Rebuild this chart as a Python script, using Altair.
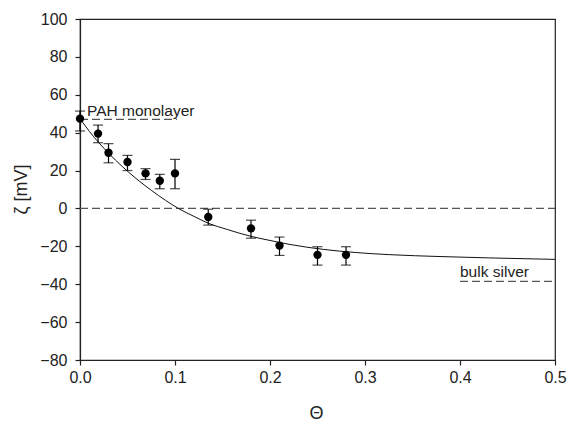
import altair as alt
import pandas as pd

# measured points (Theta, zeta) with error bar limits
theta = [0.0, 0.019, 0.030, 0.050, 0.069, 0.084, 0.100, 0.135, 0.180, 0.210, 0.250, 0.280]
zeta = [47.4, 39.5, 29.4, 24.5, 18.5, 14.6, 18.5, -4.5, -10.5, -19.6, -24.5, -24.5]
zeta_hi = [51.4, 44.0, 34.2, 28.0, 21.0, 18.0, 25.9, -0.4, -6.2, -15.1, -20.2, -20.2]
zeta_lo = [40.9, 34.7, 24.1, 20.0, 15.3, 10.4, 10.4, -8.8, -15.7, -24.8, -29.9, -29.9]

# fitted curve
curve_x = [0.0, 0.01, 0.02, 0.03, 0.045, 0.06, 0.075, 0.09, 0.1035, 0.12, 0.135, 0.155,
           0.179, 0.2, 0.221, 0.256, 0.291, 0.326, 0.38, 0.43, 0.5]
curve_y = [47.4, 40.6, 34.6, 29.2, 21.9, 15.4, 9.6, 4.3, 0.0, -4.2, -7.8, -11.1,
           -14.6, -16.9, -19.0, -21.6, -23.3, -24.4, -25.4, -26.1, -26.9]

# dashed reference lines: x start, x end, level
ref_x1 = [0.0, 0.0, 0.4]
ref_x2 = [0.5, 0.102, 0.5]
ref_y = [0.0, 47.0, -38.5]

# annotations
label_text = ["PAH monolayer", "bulk silver"]
label_x = [0.0074, 0.4]
label_y = [48.8, -36.3]

x_ticks = [0.0, 0.1, 0.2, 0.3, 0.4, 0.5]
y_ticks = [-80, -60, -40, -20, 0, 20, 40, 60, 80, 100]

pts = pd.DataFrame({"x": theta, "y": zeta, "hi": zeta_hi, "lo": zeta_lo})
crv = pd.DataFrame({"x": curve_x, "y": curve_y})
refs = pd.DataFrame({"x": ref_x1, "x2": ref_x2, "y": ref_y})
labs = pd.DataFrame({"x": label_x, "y": label_y, "t": label_text})

xs = alt.Scale(domain=[0, 0.5], nice=False, zero=False)
ys = alt.Scale(domain=[-80, 100], nice=False, zero=False)

x_axis = alt.Axis(values=x_ticks, format=".1f", title="Θ", labelFlush=False,
                  titleX=236, titleY=53, titleBaseline="middle", titleAlign="center",
                  labelPadding=4)
y_axis = alt.Axis(values=y_ticks, format="d", title="ζ [mV]", labelFlush=False,
                  titleX=-59, titleY=170, titleAngle=270, titleAlign="center",
                  titleBaseline="middle", labelPadding=8)


def X(f):
    return alt.X(f + ":Q", scale=xs, axis=x_axis)


def Y(f):
    return alt.Y(f + ":Q", scale=ys, axis=y_axis)


ref_layer = alt.Chart(refs).mark_rule(strokeDash=[8, 4], color="#555", strokeWidth=1.2).encode(
    x=X("x"), x2="x2:Q", y=Y("y"))

curve_layer = alt.Chart(crv).mark_line(color="#111", strokeWidth=1, interpolate="monotone").encode(
    x=X("x"), y=Y("y"))

err_layer = alt.Chart(pts).mark_rule(color="black", strokeWidth=1.2).encode(
    x=X("x"), y=Y("lo"), y2="hi:Q")
cap_hi = alt.Chart(pts).mark_tick(orient="horizontal", size=10, thickness=1.2, color="black").encode(
    x=X("x"), y=Y("hi"))
cap_lo = alt.Chart(pts).mark_tick(orient="horizontal", size=10, thickness=1.2, color="black").encode(
    x=X("x"), y=Y("lo"))

pt_layer = alt.Chart(pts).mark_circle(size=70, color="black", opacity=1).encode(
    x=X("x"), y=Y("y"))

text_layer = alt.Chart(labs).mark_text(font="Liberation Sans", fontSize=15.5, align="left",
                                       baseline="alphabetic", color="#222").encode(
    x=X("x"), y=Y("y"), text="t:N")

chart = alt.layer(ref_layer, curve_layer, err_layer, cap_hi, cap_lo, pt_layer, text_layer).properties(
    width=475, height=341,
    autosize=alt.AutoSizeParams(type="none"),
    padding={"left": 80, "top": 19, "right": 12, "bottom": 64},
    background="white",
).configure_view(stroke="#222", strokeWidth=1.2).configure_axis(
    domainColor="#222", tickColor="#222", labelColor="#222", titleColor="#222",
    labelFont="Liberation Sans", labelFontSize=16, tickSize=5, grid=False,
    titleFont="Liberation Sans", titleFontSize=18, titleFontWeight="normal",
    domainWidth=1.2, tickWidth=1.2,
)

chart.save("out.html", embed_options={"renderer": "svg", "actions": False})
